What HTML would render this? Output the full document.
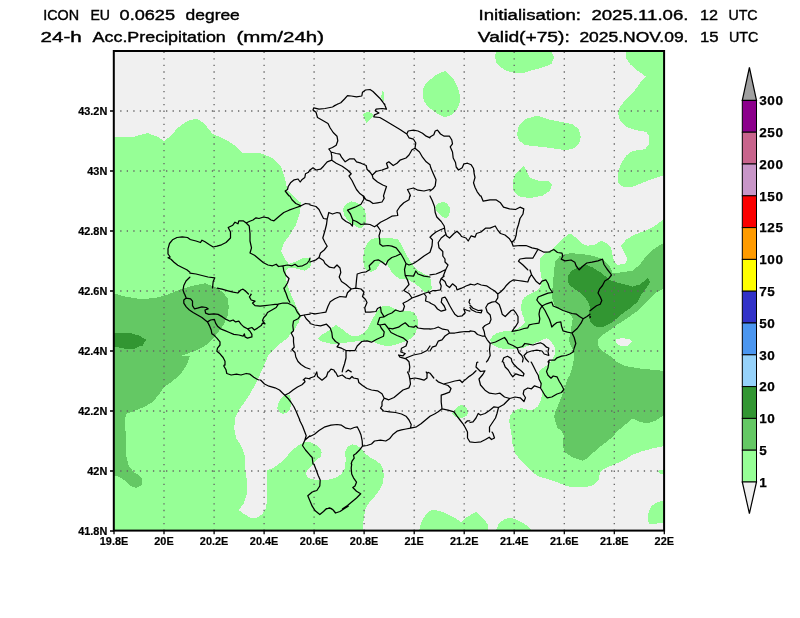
<!DOCTYPE html>
<html lang="en"><head><meta charset="utf-8"><title>ICON EU 24-h Acc.Precipitation</title>
<style>
html,body{margin:0;padding:0;background:#fff;}
body{width:800px;height:618px;overflow:hidden;position:relative;font-family:"Liberation Sans",sans-serif;}
svg{position:absolute;left:0;top:0;display:block;will-change:transform;}
.t{font-family:"Liberation Sans",sans-serif;font-size:14.9px;fill:#000;stroke:#000;stroke-width:0.4px;}
.ax{font-family:"Liberation Sans",sans-serif;font-size:10.9px;font-weight:bold;fill:#000;stroke:#000;stroke-width:0.2px;}
.cb{font-family:"Liberation Sans",sans-serif;font-size:13.5px;font-weight:bold;fill:#000;letter-spacing:0.6px;stroke:#000;stroke-width:0.25px;}
</style></head><body>
<svg width="800" height="618" viewBox="0 0 800 618">
<defs><clipPath id="cp"><rect x="113.8" y="51" width="550.3" height="479.6"/></clipPath></defs>
<rect x="0" y="0" width="800" height="618" fill="#fff"/>
<rect x="113.8" y="51" width="550.3" height="479.6" fill="#f0f0f0"/>

<g clip-path="url(#cp)" shape-rendering="crispEdges">
<path fill="#96ff96" d="M113 136.8 L133.8 136.8 L147.5 133 L157.5 136.8 L163.8 141 L170 136.8 L177.5 128 L187.5 121 L196.2 118.5 L203.8 123 L212.5 133.8 L225 139.2 L235 145.5 L242.5 153 L260 153 L272.5 158 L281.2 166.8 L285 178 L287.5 190.5 L295 198 L300 202 L301.2 202 L300 212 L296.2 224.5 L290 234.5 L283.8 243.2 L281.2 250.8 L285 259.5 L288.8 264 L296.2 261.5 L303.8 257.8 L310 257.5 L311.5 262 L310 267.5 L305 270.8 L297.5 268.8 L288.8 267.5 L285.5 270.8 L286.2 279.5 L288.8 289.5 L293.8 300.8 L298.8 312 L301.2 315.8 L298.8 322 L293.8 330.8 L286.2 339 L277.5 345.8 L271.2 352 L268 356 L263.8 366 L258.8 377.2 L253.8 387.2 L248.8 396 L243.8 403.5 L238.8 409.8 L235 418.5 L234.2 428.5 L236.2 438.5 L241.2 446 L245 456 L245 468.5 L247 481 L247 493.5 L243.8 503.5 L238.8 510 L243.8 513.8 L250 517.5 L257.5 517.5 L262.5 513.8 L266.2 507.5 L267 497.5 L267 482.5 L267.5 470 L272.5 468.5 L281.2 462.2 L286.2 457.2 L291.2 451 L297.5 446 L303.8 442.2 L302.5 441.8 L309.2 441.8 L316 444.8 L320.5 448.5 L321.7 452.2 L320.5 456.8 L316 460.5 L312.2 465 L307.8 469.5 L306.2 473.2 L307 477 L311.5 479.2 L319 480 L328 479.7 L335.5 477.8 L341.5 474 L344.8 468 L345.7 460.5 L345.2 452.2 L347.5 447 L352 444.3 L357.2 445.5 L361.8 449.2 L365.5 453.8 L370 457.5 L376 460.5 L380.5 464.2 L383.2 469.5 L383.8 476.2 L382.8 483 L379.8 489.8 L375.2 495.8 L370 501.8 L366.2 507 L364.8 511.9 L363.8 517.5 L362.5 532 L113 532Z M445.6 71 L442.2 72.2 L438.3 73.7 L434.9 75.7 L431.5 78.6 L428.1 81.5 L425.2 84.4 L423.2 88.3 L423 93.1 L423.2 98 L424.2 101.4 L427.1 105.3 L430.5 108.7 L434.4 111.6 L438.3 114 L441.7 116 L444.6 116.9 L448 116.4 L451.4 115 L454.3 112.5 L457.2 109.1 L459.2 104.8 L459.9 99.9 L459.9 95.1 L458.7 90.2 L456.7 85.4 L454.3 80.5 L451.4 76.6 L448.5 73.7Z M363.2 114.5 L367 111.5 L370.8 113 L373.8 114.8 L371.5 118.2 L369.2 120.5 L366.2 122.8 L364.3 119Z M381.2 97.5 L382 92.2 L383 90 L384.2 93.8 L384.5 98.2 L383.5 101.2Z M497 50 L551 50 L554.2 58 L551.2 64.2 L542.5 67.5 L532.5 70 L525 72.5 L515 73 L507 71 L500 67 L496 62 L495 56Z M517 134.2 L518.8 125.5 L525 119.2 L537.5 115.5 L547.5 119.2 L560 121.8 L572.5 124.2 L578.8 129.2 L580.8 136.8 L578.8 144.2 L572.5 149.2 L563.8 150 L547.5 147.5 L535 146.2 L525 145 L518.8 140.5Z M512.5 183 L515 174.2 L523.8 165.5 L526.2 170.5 L530 178 L537.5 180.5 L547.5 180.5 L552 185 L550 190.5 L542.5 195.5 L530 198 L520 196.8 L513.8 191.8Z M626.2 51 L626.2 58 L630 64.2 L637.5 70.5 L646.2 76.8 L640 83 L633.8 91.8 L626.2 99.2 L620 106.8 L618 113 L620 120.5 L626.2 126.8 L635 130 L646.2 131.8 L648.8 135.5 L648.8 144.2 L645 149.2 L632.5 151 L626.2 155.5 L620 165.5 L617.5 175.5 L618 183 L623.8 187.5 L632.5 186.8 L645 181.8 L655 178 L664.5 175 L664.5 51Z M665 218.2 L655 225.8 L645 230.8 L635 234.5 L626.2 239.5 L621.2 245.8 L623.8 252 L627 258.2 L626.2 263.2 L617.5 265 L613.8 260.8 L611.2 248.2 L606.2 243.2 L601.2 240.8 L595 244.5 L587.5 245.8 L581.2 243.2 L575 237 L570 233.2 L565 237 L558.8 243.2 L552.5 249.5 L545 253.2 L540 258.2 L539.5 267 L541.2 276 L542 281.2 L540.5 286.5 L536 291 L530 294 L524.8 297 L521.8 301.5 L521 307.5 L521.8 313.5 L524 318 L524.8 322.5 L521.8 326.2 L516.5 329.2 L510.5 330.8 L503 331.5 L497 333 L492.5 336 L490.2 339.8 L492.5 345 L498.5 348 L506 349.2 L515 348.8 L522.5 348 L527.8 345.8 L533 344.2 L537.5 342 L542 339.8 L546.5 338.2 L549.5 339.8 L552.5 343.5 L554.8 348 L555.2 354 L554.8 346 L555.2 352 L554 356.5 L551 361 L546.5 365.5 L542 368.5 L539 371.5 L539 376.8 L539.8 382 L541.2 386.5 L542 391 L541.7 396.2 L540.5 401.5 L538.2 406 L534.5 409 L530 410.5 L525.5 409 L521 408.2 L515.8 409.8 L512 412.8 L509.8 416.5 L509.3 421.8 L510.2 427 L511.2 431.9 L512.5 443.5 L515 453.5 L522.5 462.2 L530 469.8 L537.5 476 L547.5 479 L557.5 482.2 L565 485.5 L572.5 487.2 L585 487.2 L593.5 485 L598.8 479.8 L600 472.2 L602 470 L610.5 466 L622.5 461 L632.5 454.8 L642.5 451 L652.5 448.5 L664.5 446 L665 446Z M657.5 471 L664.5 469 L664.5 474.8 L660 473.5Z M648.8 523.8 L647.5 515 L651.2 506.2 L657.5 502 L665 500.5 L665 522.5 L655 523.8Z M418.8 532 L421.2 522.5 L426.2 513.8 L431.2 510 L440 510.8 L448.8 515 L456.2 518.8 L461.2 522 L466.2 517.5 L472.5 513.8 L476.2 512 L482.5 517.5 L487.5 523.8 L488.8 532Z M495 532 L498.8 523.8 L503.8 519.5 L510 517.5 L517.5 520 L526.2 525 L533.8 532Z M277.2 408 L278.8 402 L281.8 397.5 L285.5 395.2 L289.2 394.5 L290.8 398.2 L291.2 404.2 L290 409.5 L287 412.5 L282.5 414 L279.5 411.8Z M343 208.8 L346 204.2 L351.2 201.2 L356.5 202.8 L361.8 205.8 L364.8 210.2 L366.2 216.2 L365.8 223 L363.2 226.8 L360.2 228.7 L356.5 226.8 L352 223.8 L347.5 220 L344.2 215.5Z M363.2 256 L364.8 248.5 L367.8 242.5 L371.5 238.8 L377.5 238 L385 238.3 L392.5 238.4 L397.8 239.5 L400.8 243.2 L403 248.5 L406 254.5 L409.8 260.5 L413.5 265.8 L418 270.2 L424 274 L430 276.2 L430.8 280.8 L431.8 288.2 L428.8 292.5 L423.8 291.5 L421 287.9 L415 283.8 L409 280 L404.5 279.2 L399.2 278.5 L394.8 275.5 L391 271 L388 265.8 L385.8 262 L383.5 263.5 L380.5 262.8 L378.2 266.5 L375.2 270.2 L370.8 271.8 L367.8 271 L364.8 268 L363.2 262Z M435.2 207.2 L437.5 203.5 L442 202 L446.5 202.8 L449.5 207.2 L449.9 212.5 L448 217 L445 218.5 L440.5 215.5 L436.8 211.8Z M318.2 338.5 L322 334.8 L328 331 L332.5 327.2 L336.2 325 L340.8 328 L346 332.5 L351.2 335.5 L358 336.2 L362.5 334 L367 329.5 L370 324.2 L373 318.2 L376 313 L379.8 307.8 L383.5 305.5 L388.8 306.2 L394 308.5 L400 310.8 L407.5 310.8 L413.5 312.2 L417.2 316.8 L418 322.8 L417.2 328.8 L415 334 L410.5 338.5 L404.5 341.5 L398.5 343.8 L391.8 345.6 L384.2 345.6 L377.5 343.8 L372.2 341.5 L366.2 340.8 L361 340.8 L355 341.5 L349 342.2 L343 343 L337 343.8 L331 343.8 L325 342.2 L319.8 340.8Z M452.2 414 L454.8 409.5 L457.8 406.2 L461.5 405 L466 407.2 L468.2 411.8 L466.8 415.5 L463 417.8 L459.2 418.5 L455.5 417Z"/>
<path fill="#f0f0f0" d="M616.2 339.5 L621.2 338.2 L630 339 L632 342 L627.5 345.8 L620 345.8 L616.2 343.2Z"/>
<path fill="#64c864" d="M113 293.2 L125 296.5 L140 299 L155 298.2 L167.5 294.5 L180 289.5 L192.5 285.8 L205 283.2 L215 287 L222.5 292 L227.5 298.2 L228.8 307 L227.5 315.8 L223.8 324.5 L217.5 333.2 L212.5 339.5 L205 345.8 L195 350.8 L185 354.5 L180 356 L190 356 L186.2 366 L180 374.8 L171.2 382.2 L163.8 387.2 L158.8 394.8 L152.5 402.2 L143.8 407.2 L133.8 411 L126.2 414 L124.5 421 L125.5 431 L126.2 443.5 L126.2 456 L128.8 466 L133.8 472.2 L140 476 L142.5 479.8 L142 484.8 L136.2 488 L130 486 L123.8 479.8 L117.5 476 L114 475.5Z M665 242 L655 248.2 L646.2 255.8 L640 264.5 L632.5 270.8 L620 272.5 L612.5 272.5 L610 267 L602.5 259 L592.5 255.8 L582.5 254 L570 253.2 L560 255.8 L555 262 L553.8 274.5 L552.2 291 L552.5 298.5 L554 304.5 L558.5 308.2 L564.5 311.2 L569.8 314.2 L572.8 318 L572 322.5 L571.2 328.5 L570.5 333 L569 339 L569.8 343.5 L572 348 L573.5 351.8 L575 346 L574.2 353.5 L573.5 361 L572 368.5 L569.8 375.2 L566.8 380.5 L565.2 386.5 L563 392.5 L560.8 398.5 L558.5 404.5 L555.5 410.5 L554 416.5 L555.5 422.5 L557.8 428.5 L561.2 429.8 L563.8 436 L562.5 444.8 L565 452.2 L572.5 457.2 L582.5 460.5 L587.5 458.5 L593.8 452.2 L602.5 444.8 L612.5 437.2 L617.5 431 L625 424.8 L632.5 418.5 L637.5 421 L646.2 423.5 L655 421 L664.5 414.8 L664.5 371 L652.5 369.8 L640 368.5 L625 366 L615 361 L610 356 L603.8 352 L598.8 347 L597.5 340.8 L601.2 335.8 L608.8 330.8 L617.5 324.5 L627.5 318.2 L637.5 310.8 L646.2 302 L655 293.2 L664.5 288.2Z"/>
<path fill="#329632" d="M113 333 L130.5 333 L135 334.5 L139 335.5 L142 337.5 L145.5 339.5 L146 340.5 L144 343 L143 345.5 L139 346.5 L137 347.5 L134.5 349 L126 349 L122 347.8 L119 347.5 L118 346.8 L113 346.8Z M567.5 277 L571.2 270.8 L578.8 267.5 L585 264.5 L592.5 267.5 L600 272 L606.2 277 L611.2 280.8 L620 283.2 L632.5 286.5 L640 284.5 L647.5 278.2 L650.5 282 L646.2 288.2 L641.2 294.5 L637.5 302 L630 308.2 L621.2 314.5 L612.5 322 L603.8 326.5 L596.2 327 L590 322 L588.8 314.5 L590 307 L587.5 300.8 L582.5 294.5 L576.2 290 L570 285.8 L567.5 280.8Z"/>
</g>
<path d="M164 51.7 V530.6 M214.1 51.7 V530.6 M264.1 51.7 V530.6 M314.1 51.7 V530.6 M364.1 51.7 V530.6 M414.2 51.7 V530.6 M464.2 51.7 V530.6 M514.2 51.7 V530.6 M564.3 51.7 V530.6 M614.3 51.7 V530.6 M120.2 111 H664.1 M120.2 171 H664.1 M120.2 231 H664.1 M120.2 291 H664.1 M120.2 351 H664.1 M120.2 411 H664.1 M120.2 471 H664.1" fill="none" stroke="#646464" stroke-width="1.3" stroke-dasharray="1.3 5.245"/>
<g clip-path="url(#cp)"><path d="M310 205 L316 206.5 L319 209.5 L321.2 214 L323.5 218.5 L327.2 219.2 L328.8 212.5 L332.5 214 L337 212.5 L340 213.2 L342.2 218.5 L346 221.5 L350.5 223.8 L352.4 226 L352.8 220 L356.5 221.5 L361 224.5 L364.8 223.8 L370 224.5 L374.5 226.8 L376.8 225.2 L380.5 230.5 L379 235.8 L379.8 240.2 L379.8 244 L382.8 246.2 L388 245.5 L391.8 246.2 L396.2 247.8 L398.5 250.8 L400.8 253.8 L403.8 259 L406 263.5 L409 265 L413.5 263.5 L418 260.5 L424 256 L430 252.2 M400.8 253.8 L396.2 256 L391.8 257.5 L388 260.5 L385.8 265 L382 262 L378.2 259.8 L374.5 260.5 L371.5 263.5 L369.2 265.8 L370 269.5 L366.2 271.8 L361.8 272.5 L357.2 274 L356.5 280 L355.8 287.9 M327.2 219.2 L326.5 224.5 L325 230.5 L322.8 238 L325 242.5 L327.2 246.2 L324.2 250 L320.5 253 L319 257.5 L316 259.8 L310 262 M319 257.5 L323.5 260.5 L325 263.5 L329.5 267.2 L334 268 L337 265 L340 268 L340.8 272.5 L339.2 277 L341.5 281.5 L346 284.5 L349.8 287.9 M363.2 196 L364 199 L361 204.2 L355 207.2 L347.5 210.2 L350.5 214 L352.8 220 M409.8 196 L409 199.8 L403.8 202.8 L400 206.5 L397 211 L397.8 215.5 L391.8 216.2 L386.5 219.2 L380.5 222.2 L376.8 225.2 M363.2 196 L366.2 199.8 L370 201.2 L373 203.5 L377.5 202.8 L382 202 L384.2 198.2 L383.5 196 M406 263.5 L404.5 269.5 L405.2 275.5 L407.5 280 L409 284.5 L406 287.9 M406 275.5 L413.5 276.2 L415.8 271 L418 274 L424 276.2 L430 277 M430 196 L432.2 200.5 L434.5 206.5 L435.2 212.5 L436.8 217 L441.2 221.5 L444.2 226 L445 231.2 L446.5 235.8 L449.5 238 L454 233.5 L457 231.2 L460 234.2 L461.5 236.5 L466 238 L468.2 241 L471.2 235.8 L475 237.2 L476.5 233.5 L481 232 L485.5 228.2 L490 228.2 L495.2 226 L497.5 229.8 L500.5 233.5 L505 235 L509.5 238.8 L511.8 242.5 L513.2 246.2 L520 245.5 L526 245.5 L532 247.8 L538 249.2 L544 252.2 L550 251.8 M444.2 228.2 L440.5 229.8 L436 232 L432.2 235 L430 237.2 M445 235 L441.2 238 L438.2 242.5 L439 247.8 L442.8 251.5 L442.8 256 L445 259 L445 262 L448 265 L445.8 269.5 L441.2 271.8 L436 274 L430 274.8 M445.8 269.5 L443.5 275.5 L443.2 275.9 M481 196 L483.2 201.2 L490 199.8 L496 199.8 L500.5 202.8 L503.5 207.2 L509.5 208.8 L515.5 209.5 L520 207.2 L523.8 208.8 L523 214 L520 218.5 L518.5 224.5 L517 229 L516.2 235 L514.8 239.5 L511.8 242.5 M538 249.2 L535 254.5 L532.8 258.2 L526 258.2 L520 259 L518.5 261.2 L523 265 L527.5 269.5 L527.8 269.9 M350.5 288.1 L351.2 289 L355.8 288.2 L355.8 288 M355.8 288.2 L361 289 L364 292 L362.5 296.5 L365.5 299.5 L367 302.5 L364.8 307.8 L365.5 312.2 L370 312.2 L376 311.5 L377.5 308.5 L380.5 307 L381.2 312.2 L384.2 316.8 L388 314.5 L391.8 313 L395.5 310 L400 311.5 L403 310.8 L404.5 306.2 L403 303.2 L407.5 301 L412 298 L409 293.5 L403.8 290.5 L405.8 288.1 M351.2 289 L347.5 292.8 L346 297.2 L340 296.5 L334.8 298.8 L330.2 301.8 L328 306.2 L325.8 312.2 L320.5 313 L315.2 313.8 L310 313 M310 323.5 L314.5 325 L320.5 325.8 L326.5 324.2 L330.2 328 L331.8 332.5 L332.5 337.8 L335.5 341.5 L339.2 343.8 L337 346.8 L341.5 348.2 L346 350.5 L355 350.5 L357.2 346 L361.8 341.5 L367 340.8 L371.5 342.2 L376.8 339.2 L383.5 336.2 L384.2 331.8 L381.2 328 L379.8 325 L377.5 324.2 L379 319.8 L379.8 317.5 L384.2 316.8 M379.8 325 L385 324.2 L388 328 L392.5 328.8 L398.5 327.2 L401.5 325 L405.2 322.8 L409 326.5 L413.5 327.2 L415.8 325.8 L418 328 L424 328.8 L430 328.8 M388 328 L391 332.5 L397 335.5 L403 337.8 L407.5 341.5 L406 346 L401.5 348.2 L400.8 352 L405.2 353.5 L403 355.8 L398.5 355 L400 357.2 L406 358.8 L409 361.8 L409.8 367 L409 371.9 M406 358 L413.5 355 L421 353.5 L427 350.5 L430 346 M346 350.5 L346 358 L344.5 364 L343 368.5 L342.2 371.9 M328.8 371.9 L331 369.2 L334 370 L334.8 371.9 M346 371.9 L348.2 370 L351.2 371.9 M412 298 L418 295.8 L424 293.5 L426.2 296.5 L425.5 301 L430 302.5 M424 293.5 L428.5 292 L430 293.5 M337.8 104 L332.5 107 L325 108.5 L319 109.2 L313.8 107.8 L313 110 L316 112.2 L317.5 117.5 L322.8 120.5 L328 123.5 L330.2 128 L333.2 132.5 L337 136.2 L337.8 140.8 L336.2 145.2 L332.5 147.5 L328.8 149 L331 152 L331.8 156.5 L331.8 160.2 L327.2 161.8 L323.5 166.2 L320.5 169.2 L316 170 L313 167.8 L310 170 M331 152 L336.2 153.5 L340 154.2 L341.5 157.2 L345.2 161.8 L349.8 158.8 L354.2 158.8 L356.5 161.8 L361 163.2 L366.2 165.5 L367 169.2 L370 172.2 L372.2 175.2 L373 178.2 L377.5 182 L382.8 185 L386.5 186.5 L385 191 L383.5 195.9 M331.8 160.2 L336.2 163.2 L342.2 166.2 L347.5 170 L351.2 173.8 L349 176 L352 180.5 L354.2 185 L356.5 189.5 L359.5 193.2 L363.2 195.9 M372.2 175.2 L376 171.5 L382 170 L388 167.8 L386.5 163.2 L388.8 161.8 L393.2 165.5 L397 163.2 L400 160.2 L406 158 L409 155 L412 149.8 L415 148.2 L415.8 143 L413.5 139.2 L409 137.8 L406.8 134 L408.2 131 L413.5 130.2 L418 131 L422.5 133.2 L426.2 136.2 L430 137.8 M406.8 134 L400 129.5 L392.5 125 L385 120.5 L379.8 117.5 L373.8 116.8 L374.5 114.8 L379 113 L375.2 110.8 L376 109.2 L382 108.5 L386.5 109.2 L385 105.5 L384.6 104 M415 148.2 L419.5 152 L422.5 157.2 L426.2 161.8 L430 164.8 M410.5 195.9 L409.8 194 L407.5 189.5 L413.5 188 L418 190.2 L424 191 L430 189.5 M430 137 L433.8 134.8 L435.2 131 L437.5 130.2 L440.5 134 L444.2 136.2 L449.5 136.2 L451.8 140 L452.5 143.8 L450.2 146.8 L452.5 152 L453.2 158 L455.5 162.5 L456.2 167 L458.5 170 L462.2 167.8 L463.8 164 L467.5 163.2 L471.2 164.8 L473.5 168.5 L474.2 173.8 L475 177.5 L473.5 182.8 L475 187.2 L477.2 191.8 L480.2 195.9 M430 164.8 L430.8 167.8 L433 173 L436 179.8 L435.2 185.8 L433 188.8 L430 191 M334 105.8 L340.8 102.8 L344.5 99 L347.5 95.7 L351.2 96 L356.5 96.8 L361.8 96 L362.5 92.2 L365.5 90 L370 89.5 L373 91.5 L376 94.5 L379.8 98.2 L382.8 102 L384.7 105 M289.8 196 L292 199.8 L295.8 203.5 L301 205.8 L305.5 203.5 L310 204.2 M301 205.8 L295 208 L289 210.2 L283.8 212.5 L279.2 216.2 L274 220.8 L271 220 L268 217.8 L263.5 217 L259 218.5 L256 217.8 L253 220 L249.2 221.5 L246.2 223 L243.2 220.8 L238.8 220.8 L238 223.8 L235 222.2 L232.8 225.2 L228.2 227.5 L230.5 232 L230.5 238 L226 242.5 L221.5 244.8 L217 246.2 L213.2 247 L209.5 244.8 L205 241.8 L202 240.2 L200.5 242.5 L196 241 L190 239.5 M246.2 223 L249.2 226 L250 233.5 L250 241 L251.5 247.8 L250 253 L254.5 255.2 L259 259 L263.5 262.8 L268 265 L272.5 265.8 L276.2 264.2 L278.5 266.5 L283 265.8 L287.5 265 L292 265.8 L295 264.2 L298 266.5 L302.5 265.8 L307 263.5 L309.2 260.5 L310 258.2 M283 265.8 L283.8 271 L286 275.5 L289 278.5 L287.5 283 L284.5 287.9 M190 273.2 L196 274 L202 275.5 L208 277 L214.8 277.8 L213.2 281.5 L212.5 287.9 M189.9 239.3 L187.5 237.5 L182.2 236.8 L177 237.5 L172.5 239.8 L169.5 243.5 L168 248.8 L168 254 L170.2 257 L168 257.8 L171 259.2 L174 262.2 L177.8 265.2 L182.2 267.5 L186.8 269.8 L189.9 272.3 M217.2 288.1 L222 289.2 L228 290.8 L233.2 292.2 L237.8 293 L240.8 290 L243 289.2 L245.2 290.8 L248.2 293.8 L248.4 294 M189.9 277.1 L189.8 277.2 L186 281 L183.8 285.5 L183 290 L184.3 293.8 M310 169.8 L308.5 172.2 L305.5 173.8 L304.8 177.5 L301.8 179.8 L300.2 182 L298 179 L294.2 179.8 L290.5 182.8 L288.2 186.5 L287.5 189.5 L285.2 191 L287.5 194 L289 195.9 M278.2 304.1 L283 303 L287.5 303 L292 305.2 L295 307.5 L297.2 312 L300.2 315.8 L304 315 L310 314.2 M300.2 315.8 L298 318.8 L293.5 321 L292.8 325.5 L293.5 330.8 L291.2 333 L293.5 337.5 L293.5 342 L294.2 347.2 L292 349.5 L295 352.5 L295.8 357 L298 361.5 L301 364.5 L305.5 367.5 L310 369 M304 315 L306.2 318.8 L310 322.5 M224.1 365.1 L223.8 366 L226 369.8 L226.8 373.5 L231.2 375 L236.5 374.2 L241 375 L246.2 373.5 L250 374.2 L253.8 377.2 L257.5 379.5 L259 379.9 M303.2 379.9 L305.5 378 L310 378.8 M283.8 288 L286 293.2 L287.8 298.5 L289.8 302.2 M469.6 300.1 L469 302.2 L469.9 303.7 M469.9 311.1 L467.5 310.5 L463.8 309 L465.2 312.8 L462.2 315.8 L457.8 316.5 L454.8 314.2 L452.5 310.5 L449.5 305.2 L447.2 300.8 L446.8 300.1 M441.7 300.1 L441.2 302.2 L444.2 306 L445.8 309.8 L441.2 311.2 L437.5 309 L434.5 305.2 L430 303 M469.8 331.5 L465.2 331.5 L460 332.2 L454.8 333 L449.5 333 L448 330 L442.8 329.2 L438.2 327 L434.5 328.5 L430 329.2 M469.8 375.9 L469 376.5 L465.2 379.9 M449.5 333 L445 336 L442 339.8 L438.2 341.2 L436 345.8 L432.2 347.2 L430 351 M550.1 251.3 L550.8 251 L553.8 249.5 L557.5 252.5 L562 253.2 L562.8 256.2 L561.2 259.2 L565 260.8 L571 260 L574.8 262.2 L576.2 266 L579.2 269.8 L583 266 L586.8 263 L592 262.2 L598 260.8 L602.5 259.2 L604 264.5 L607 269 L610 272.8 L611.5 275 L608.5 278.8 L604.8 281 L602.5 285.5 L599.5 289.2 L598 293 L600.2 296.8 L601.8 300.5 L600.2 304.2 L596.5 305.8 L593.5 308 L590.1 310.7 M590 316.4 L590.5 317 L590.1 317.4 M436.2 380 L438.2 381.8 L443.5 384 L448 385.5 L451 388.5 L449.5 392.2 L445 393.8 L441.2 395.2 L441.2 402 L442 408.8 L438.2 411.8 L434.5 414 L430 416.2 M442 408.8 L448 410.2 L454 411.8 L457 416.2 L460 420 L463 423.8 L465.2 427.5 L467.5 432 L467.5 438 L469.8 441.8 L475 442.5 L481 441.8 L485.5 439.5 L489.2 437.2 L491.5 439.5 L494.5 438 L493 433.5 L492.1 432.1 M465.2 423 L467.5 420.8 L469.8 420.8 M443.5 384 L449.5 382.5 L454.8 381 L460 380.2 L462.2 382.5 L464.6 380.1 M310 378 L314.5 376.5 L316.8 372 M316.8 372 L317.5 376.5 L322 380.2 L326.5 376.5 L328 372 M335.5 372 L337.8 376.5 L342.2 375 L346 378 L349.8 378.8 L352 376.5 L353.5 378 L358 378.8 L358.8 382.5 L362.5 385.5 L367 388.5 L371.5 390 L377.5 390.8 L382 393.8 L384.2 398.2 L382 402 L382 405.8 L380.5 408 L383.5 411 L389.5 411.8 L395.5 412.5 L401.5 414 L406 416.2 L409 420 L411.2 424.5 L410.5 428.2 M384.2 398.2 L388.8 399.8 L394 397.5 L398.5 393.8 L403 390 L409 387.8 L410.5 384 L409.8 378.8 L409 375 L407.5 372 M409.8 378.8 L415 378 L419.5 378.8 L424 380.2 L427 378 L427 373.5 L426.2 372 M310 436.5 L314.5 434.2 L319 430.5 L325 426.8 L331 425.2 L337 424.5 L341.5 425.2 L346 428.2 L350.5 429 L354.2 427.5 L357.2 426.8 L359.5 431.2 L361 435 L362.2 441 L362.5 446.2 L367 445.5 L371.5 444 L374.5 441 L380.5 440.2 L385.8 441 L389.5 438.8 L393.2 434.2 L397 431.2 L401.5 429.8 L406 429 L410.5 428.2 L416.5 426.8 L421 423.8 L425.5 420 L430 416.2 M362.5 446.2 L359.5 450 L355.8 453.8 L353.5 455.2 L354.2 458.2 L352 461.2 L351.2 463.9 M310 455.2 L312.2 457.5 L313 463.9 M304.8 440.2 L310 435.8 M351.7 464.2 L351.2 468 L351.7 474 L353.5 477.8 L356.5 482.2 L355 486 L352.8 487.5 L356.5 491.2 L360.7 493.8 L356.5 498 L352 501.8 L347.5 505.5 L343 508.5 L342.4 508.9 M299.5 420 L302.5 426 L304.8 432 L306.2 435.8 L304.8 440.2 L302.5 445.5 L305.5 450 L310 455.2 M314 464.2 L316 469.5 L318.2 475.5 L320.2 480 L319.8 486 L316.8 490.5 L312.2 492 L307.8 495.8 L310 501 L312.2 506.2 L314 508.9 M326.4 509 L329.5 507.8 L331.9 508.9 M310 501 L312.2 506.2 L315.2 510.8 L319.8 514.5 L323.5 511.5 L326.5 508.5 L330.2 508.2 L333.2 510 L335.5 513 L340 511.5 L344.5 508.5 L348.2 506.2 M260.3 380.1 L260.8 380.2 L264.5 384 L269 386.2 L275 387.8 L279.5 390 L282.5 393 L284.8 395.2 L287.8 398.2 L290.8 402 L293.8 406.5 L296 411 L298.2 416.2 L299.8 419.9 M284.8 395.2 L289.2 393 L293 390 L297.5 387 L302 384.8 L305 381.8 L304.4 380.2 M444.2 276.1 L441.2 278.5 L439.8 282.2 L441.2 286 L440.5 289.8 L436.8 290.5 L433 290.5 L430 292 M441.2 278.5 L445 281.5 L446.5 285.2 L449.5 287.5 L452.5 283.8 L456.2 286.8 L457 289.8 L461.5 288.2 L466 286 L469.8 284.7 M470 299.3 L469.7 300 M446.9 299.9 L445 297.2 L442 298 L441.6 299.9 M184.6 294.1 L185 295 L186.2 298.1 L183.8 300 L183.8 303.1 L186.2 306.9 L189.4 310 L193.1 312.5 L197.5 315 L201.9 317.5 L205 320 L207.5 321.9 L209.4 325.6 L211.2 330 L211.9 333.8 L214.4 335.6 L216.9 338.1 L220 341.9 L220 345 L217.5 348.1 L216.9 351.2 L220 353.8 L223.1 357.5 L225 361.2 L225 365 M186.2 298.1 L190.6 298.8 L192.5 301.2 L192.5 305.6 L194.4 308.8 L197.5 308.1 L201.9 306.9 L206.2 307.5 L208.1 308.8 L205 310 L205.6 313.1 L208.8 314.4 L213.8 313.8 L218.1 314.4 L222.5 316.9 L226.2 319.4 L230 321.2 L233.1 320 L235.6 321.9 L238.8 321.2 L241.2 324.4 L243.8 326.9 L247.5 328.8 L250 331.2 L251.9 334.4 L251.9 336.9 L247.5 338.1 L245 336.9 L244.4 333.8 L243.1 336.2 L238.8 335 L233.8 334.4 L229.4 332.5 L225 330.6 L220.6 328.8 L217.5 326.2 L215.6 323.1 L214.4 319.4 L210.6 320 L207.5 321.9 M247.5 328.8 L251.9 327.5 L254.4 330 L257.5 328.1 L261.2 325.6 L262.5 323.1 L265 323.8 L262.5 320.6 L263.8 317.5 L266.2 315 L267.5 312.5 L271.9 310 L276.2 307.5 L278 304.6 M277.9 304.4 L275 304.4 L270 305 L265 305.6 L260 306.2 L255 305.6 L252.5 303.1 L255 301.2 L251.2 300 L249.4 296.9 L251.2 294.4 L250.9 294.1 M427 373.5 L428 372.3 L430 373.2 L433.8 378 M430 237.2 L432.5 240 L432 246 L430 252.2 M530 270 L531.5 274.5 L529.2 278.2 L527.8 282 L522.5 281.2 L518 280.5 L513.5 279.8 L509.8 282 L506 285.8 L503.8 288.8 L500.8 291.8 L497.8 294 L494.8 291 L491 288.8 L486.5 285.8 L481.2 285 L477.5 283.5 L474.5 285 L470 284.2 M497.8 294 L497.8 297.8 L495.5 301.5 L491.8 302.2 L488 303.8 L485.8 307.5 L487.2 312 L490.2 315 L491 319.5 L489.5 323.2 L485 325.5 L482.8 327.8 L484.2 331.5 L485 336 L487.2 339.8 L490.2 343.5 L489.5 349.5 L490.2 355.5 L488 360 L486.5 361.9 M470 330.8 L474.5 331.5 L477.5 334.5 L482 336 L485 336 M495.5 301.5 L499.2 304.5 L500.8 309 L502.2 314.2 L505.2 316.5 L508.2 313.5 L511.2 310.5 L513.5 309.8 L515.8 312.8 L518 316.5 L518 322.5 L515.8 326.2 L513.5 329.2 L512 331.5 L515 330.8 L519.5 330 L524 328.5 L527.8 327.8 L529.2 324.8 L533 324 L539 323.2 L539.8 318.8 L539 314.2 L539.8 309.8 L542 306 L539 303 L536.8 300 L538.2 297 L543.5 294.8 L548 293.2 L552.5 292.5 L549.5 288 L548 283.5 L545.8 279.8 L542 281.2 L539.8 284.2 L536 281.2 L533 276.8 L531.5 274.5 M542 306 L546.5 303.8 L551.8 302.2 L553.2 306 L558.5 308.2 L563 310.5 L567.5 312 L572 313.5 L576.5 314.2 L579.5 316.5 L583.2 318.8 L587 316.5 L590 314.2 M542 306 L545 310.5 L547.2 315 L549.5 319.5 L551 324 L551.8 327 L554 324.8 L557 322.5 L560.8 321.8 L561.5 326.2 L563 330.8 L567.5 332.2 L572 333 L577.2 328.5 L581 323.2 L583.2 318.8 M572 333 L574.2 337.5 L575.8 343.5 L574.2 348 L573.5 351.8 L569.8 354 L566 355.5 L561.5 356.2 L557 357.8 L554.8 360 L549.5 360 L548 361.9 M490.2 343.5 L495.5 342 L500 339.8 L504.5 337.5 L506.8 340.5 L508.2 343.5 L513.5 345.8 L517.2 348 L522.5 346.5 L524.8 343.5 L528.5 344.2 L533 345 L537.5 343.5 L540.5 342.8 L543.5 344.2 L546.5 347.2 L548.8 348 L548 351.8 L548.8 355.5 L544.2 354 L542 351 L536.8 350.2 L531.5 351 L527 352.5 L524 355.5 L525.5 358.5 L528.5 361.9 M517.2 348 L518.8 352.5 L521.8 355.5 L523.2 358.5 L522.5 361.9 M502.2 361.9 L503.8 357.8 L507.5 356.2 L511.2 358.5 L512 361.9 M470 305.2 L473 308.2 L478.2 310.5 L482 310.2 L481.2 312.8 L476 312 L471.5 309.8 L470 307.5 M477.9 362.1 L476.8 362.5 L476 367 L480.5 371.5 L485 370.8 L482.8 374.5 L479 379 L480.5 385 L485 390.2 L489.5 393.2 L495.5 394 L500 393.2 L504.5 397 L509.8 398.5 L507.5 400.8 L503.8 404.5 L498.5 407.5 L494 406.8 L489.5 410.5 L485 413.5 L480.5 415 L478.2 413.5 L476 418 L473 421.8 L470 422.5 M498.5 407.5 L497 413.5 L495.5 418 L492.5 422.5 L489.5 427 L489.5 431.9 M476 370.8 L473 373.8 L470 376 M509.8 398.5 L515 397 L520.2 397.8 L524 401.5 L525.5 397.8 L523.2 394 L524 390.2 L527.8 388 L531.5 388.8 L534.5 385.8 L540.5 388 L542.8 391.8 L545 395.5 L547.2 397.8 L551.8 397 L557 394 L561.5 392.5 L563.8 389.5 L561.5 385 L559.2 381.2 L557 376.8 L553.2 376 L551 378.2 L548 375.2 L546.5 371.5 L548 367.8 L548.8 362.5 L549.4 362.1 M540.5 388 L541.2 383.5 L539 379 L538.2 375.2 L536 371.5 L533.8 367 L531.5 362.5 L531.2 362.1 M512.4 362.1 L513.5 364 L517.2 367.8 L521 370.8 L524 373.8 L523.2 376 L519.5 375.2 L515.8 373.8 L512.8 376.8 L510.5 373.8 L508.2 370 L505.2 367 L503.8 363.2 L503.6 362.1" fill="none" stroke="#000" stroke-width="1.25" stroke-linejoin="round" stroke-linecap="round"/></g>
<rect x="113.8" y="51" width="550.3" height="479.6" fill="none" stroke="#000" stroke-width="2"/>
<path d="M114 530.6 v3.6 M164 530.6 v3.6 M214.1 530.6 v3.6 M264.1 530.6 v3.6 M314.1 530.6 v3.6 M364.1 530.6 v3.6 M414.2 530.6 v3.6 M464.2 530.6 v3.6 M514.2 530.6 v3.6 M564.3 530.6 v3.6 M614.3 530.6 v3.6 M664.3 530.6 v3.6 M113.8 111 h-3.8 M113.8 171 h-3.8 M113.8 231 h-3.8 M113.8 291 h-3.8 M113.8 351 h-3.8 M113.8 411 h-3.8 M113.8 471 h-3.8 M113.8 531 h-3.8" fill="none" stroke="#000" stroke-width="1.3"/>
<text class="ax" x="107.3" y="115" text-anchor="end">43.2N</text>
<text class="ax" x="107.3" y="175" text-anchor="end">43N</text>
<text class="ax" x="107.3" y="235" text-anchor="end">42.8N</text>
<text class="ax" x="107.3" y="295" text-anchor="end">42.6N</text>
<text class="ax" x="107.3" y="355" text-anchor="end">42.4N</text>
<text class="ax" x="107.3" y="415" text-anchor="end">42.2N</text>
<text class="ax" x="107.3" y="475" text-anchor="end">42N</text>
<text class="ax" x="107.3" y="535" text-anchor="end">41.8N</text>
<text class="ax" x="114" y="544.6" text-anchor="middle">19.8E</text>
<text class="ax" x="164" y="544.6" text-anchor="middle">20E</text>
<text class="ax" x="214.1" y="544.6" text-anchor="middle">20.2E</text>
<text class="ax" x="264.1" y="544.6" text-anchor="middle">20.4E</text>
<text class="ax" x="314.1" y="544.6" text-anchor="middle">20.6E</text>
<text class="ax" x="364.1" y="544.6" text-anchor="middle">20.8E</text>
<text class="ax" x="414.2" y="544.6" text-anchor="middle">21E</text>
<text class="ax" x="464.2" y="544.6" text-anchor="middle">21.2E</text>
<text class="ax" x="514.2" y="544.6" text-anchor="middle">21.4E</text>
<text class="ax" x="564.3" y="544.6" text-anchor="middle">21.6E</text>
<text class="ax" x="614.3" y="544.6" text-anchor="middle">21.8E</text>
<text class="ax" x="664.3" y="544.6" text-anchor="middle">22E</text>
<text class="t" x="43.2" y="20" textLength="35.8" lengthAdjust="spacingAndGlyphs">ICON</text>
<text class="t" x="90.4" y="20" textLength="19.6" lengthAdjust="spacingAndGlyphs">EU</text>
<text class="t" x="119.6" y="20" textLength="55.4" lengthAdjust="spacingAndGlyphs">0.0625</text>
<text class="t" x="185.6" y="20" textLength="54.2" lengthAdjust="spacingAndGlyphs">degree</text>
<text class="t" x="40.6" y="41.6" textLength="41.2" lengthAdjust="spacingAndGlyphs">24-h</text>
<text class="t" x="92.6" y="41.6" textLength="133.2" lengthAdjust="spacingAndGlyphs">Acc.Precipitation</text>
<text class="t" x="236.4" y="41.6" textLength="87.6" lengthAdjust="spacingAndGlyphs">(mm/24h)</text>
<text class="t" x="478.6" y="20" textLength="102.4" lengthAdjust="spacingAndGlyphs">Initialisation:</text>
<text class="t" x="591.4" y="20" textLength="97.1" lengthAdjust="spacingAndGlyphs">2025.11.06.</text>
<text class="t" x="700" y="20" textLength="18" lengthAdjust="spacingAndGlyphs">12</text>
<text class="t" x="728.4" y="20" textLength="29.2" lengthAdjust="spacingAndGlyphs">UTC</text>
<text class="t" x="477.8" y="41.6" textLength="92" lengthAdjust="spacingAndGlyphs">Valid(+75):</text>
<text class="t" x="579.4" y="41.6" textLength="109.1" lengthAdjust="spacingAndGlyphs">2025.NOV.09.</text>
<text class="t" x="700" y="41.6" textLength="18.6" lengthAdjust="spacingAndGlyphs">15</text>
<text class="t" x="729" y="41.6" textLength="29.4" lengthAdjust="spacingAndGlyphs">UTC</text>
<rect x="742.3" y="100.4" width="14.2" height="31.8" fill="#8c008c" stroke="#000" stroke-width="1"/>
<rect x="742.3" y="132.2" width="14.2" height="31.8" fill="#c8648c" stroke="#000" stroke-width="1"/>
<rect x="742.3" y="164" width="14.2" height="31.8" fill="#c896c8" stroke="#000" stroke-width="1"/>
<rect x="742.3" y="195.8" width="14.2" height="31.8" fill="#fa0000" stroke="#000" stroke-width="1"/>
<rect x="742.3" y="227.6" width="14.2" height="31.8" fill="#ff9b00" stroke="#000" stroke-width="1"/>
<rect x="742.3" y="259.4" width="14.2" height="31.8" fill="#ffff00" stroke="#000" stroke-width="1"/>
<rect x="742.3" y="291.2" width="14.2" height="31.8" fill="#3232c8" stroke="#000" stroke-width="1"/>
<rect x="742.3" y="323" width="14.2" height="31.8" fill="#4b96f0" stroke="#000" stroke-width="1"/>
<rect x="742.3" y="354.8" width="14.2" height="31.8" fill="#96d2fa" stroke="#000" stroke-width="1"/>
<rect x="742.3" y="386.6" width="14.2" height="31.8" fill="#329632" stroke="#000" stroke-width="1"/>
<rect x="742.3" y="418.4" width="14.2" height="31.8" fill="#64c864" stroke="#000" stroke-width="1"/>
<rect x="742.3" y="450.2" width="14.2" height="31.8" fill="#96ff96" stroke="#000" stroke-width="1"/>
<path d="M742.3 100.4 L749.4 67.5 L756.5 100.4Z" fill="#a0a0a0" stroke="#000" stroke-width="1.2" stroke-linejoin="miter"/>
<path d="M742.3 482 L749.4 513.5 L756.5 482Z" fill="#f0f0f0" stroke="#000" stroke-width="1.2" stroke-linejoin="miter"/>
<text class="cb" x="759.2" y="105.2">300</text>
<text class="cb" x="759.2" y="137">250</text>
<text class="cb" x="759.2" y="168.8">200</text>
<text class="cb" x="759.2" y="200.6">150</text>
<text class="cb" x="759.2" y="232.4">125</text>
<text class="cb" x="759.2" y="264.1">100</text>
<text class="cb" x="759.2" y="296">75</text>
<text class="cb" x="759.2" y="327.8">50</text>
<text class="cb" x="759.2" y="359.6">30</text>
<text class="cb" x="759.2" y="391.4">20</text>
<text class="cb" x="759.2" y="423.1">10</text>
<text class="cb" x="759.2" y="455">5</text>
<text class="cb" x="759.2" y="486.8">1</text>
</svg></body></html>
